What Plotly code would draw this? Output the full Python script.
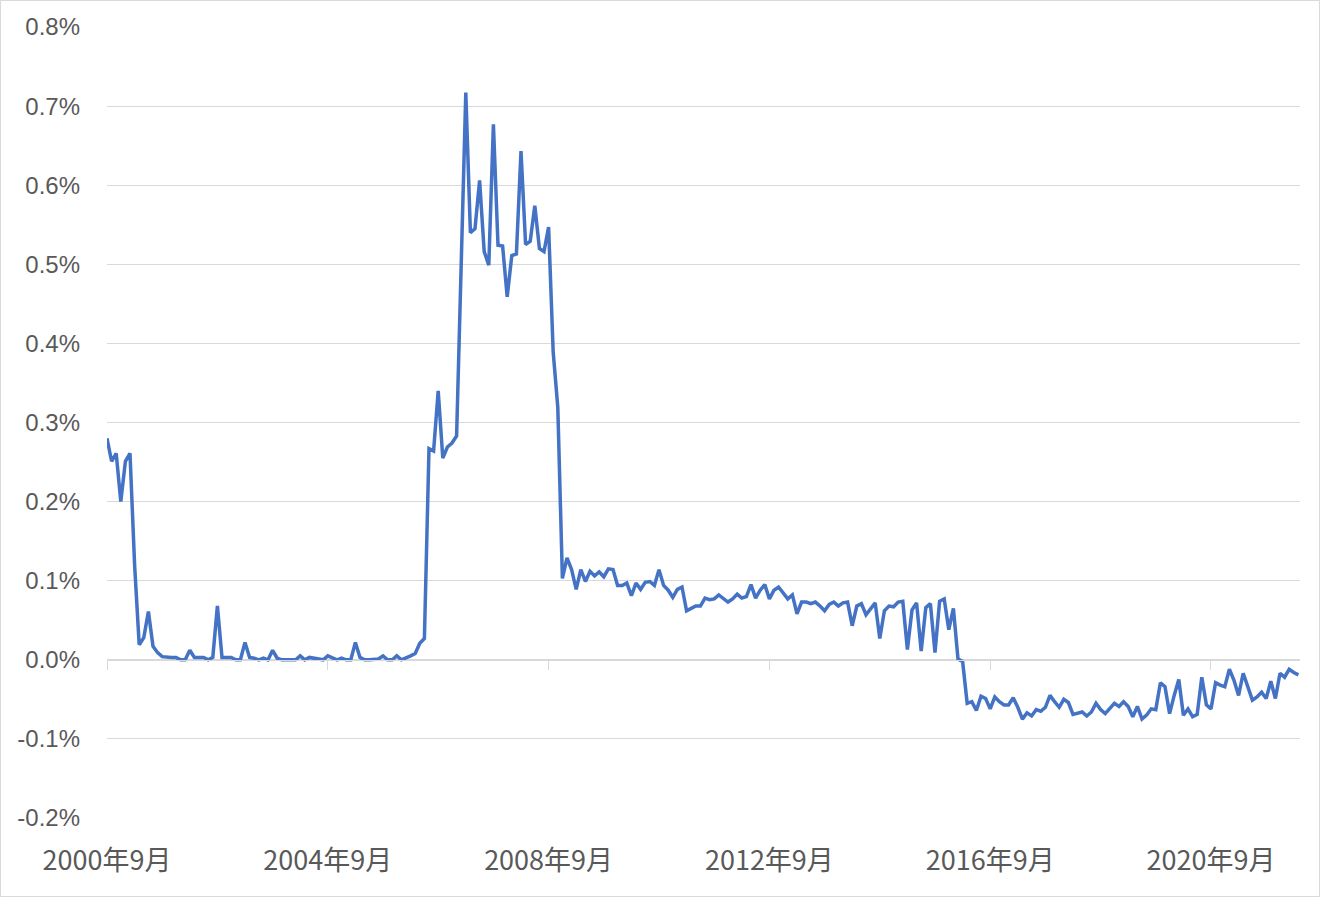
import plotly.graph_objects as go

# ---- data -------------------------------------------------------------
start_year, start_month = 2000, 9
values = [
    0.280, 0.251, 0.261, 0.200, 0.251, 0.261, 0.120, 0.019, 0.028, 0.061,
    0.017, 0.009, 0.004, 0.003, 0.003, 0.003, 0.000, 0.000, 0.012, 0.003,
    0.003, 0.003, 0.000, 0.003, 0.068, 0.003, 0.003, 0.003, 0.000, 0.000,
    0.022, 0.003, 0.002, 0.000, 0.002, 0.000, 0.012, 0.002, 0.000, 0.000,
    0.000, 0.000, 0.005, 0.000, 0.003, 0.002, 0.000, 0.000, 0.005, 0.002,
    0.000, 0.002, 0.000, 0.000, 0.022, 0.003, 0.000, 0.000, 0.000, 0.001,
    0.005, 0.000, 0.000, 0.005, 0.000, 0.002, 0.005, 0.008, 0.021, 0.027,
    0.267, 0.264, 0.340, 0.255, 0.269, 0.274, 0.283, 0.500, 0.717, 0.540,
    0.545, 0.606, 0.516, 0.499, 0.677, 0.524, 0.523, 0.459, 0.511, 0.513,
    0.643, 0.525, 0.529, 0.574, 0.520, 0.516, 0.547, 0.389, 0.319, 0.103,
    0.129, 0.114, 0.089, 0.114, 0.099, 0.112, 0.106, 0.111, 0.105, 0.115,
    0.114, 0.094, 0.094, 0.097, 0.081, 0.097, 0.089, 0.098, 0.099, 0.094,
    0.114, 0.094, 0.088, 0.079, 0.089, 0.092, 0.062, 0.065, 0.068, 0.068,
    0.078, 0.076, 0.077, 0.082, 0.078, 0.073, 0.077, 0.083, 0.078, 0.080,
    0.095, 0.078, 0.088, 0.095, 0.077, 0.088, 0.092, 0.085, 0.077, 0.082,
    0.058, 0.073, 0.073, 0.071, 0.073, 0.068, 0.062, 0.070, 0.073, 0.068,
    0.072, 0.073, 0.043, 0.068, 0.071, 0.057, 0.064, 0.072, 0.027, 0.062,
    0.068, 0.067, 0.073, 0.074, 0.013, 0.063, 0.072, 0.011, 0.066, 0.071,
    0.009, 0.074, 0.077, 0.038, 0.065, 0.001, -0.002, -0.055, -0.053, -0.064,
    -0.046, -0.049, -0.062, -0.047, -0.053, -0.057, -0.057, -0.048, -0.060, -0.075,
    -0.067, -0.071, -0.063, -0.065, -0.060, -0.045, -0.053, -0.060, -0.050, -0.054,
    -0.069, -0.068, -0.066, -0.071, -0.066, -0.055, -0.063, -0.068, -0.062, -0.055,
    -0.059, -0.053, -0.059, -0.072, -0.059, -0.075, -0.070, -0.062, -0.063, -0.029,
    -0.034, -0.068, -0.045, -0.025, -0.070, -0.062, -0.072, -0.069, -0.022, -0.057,
    -0.062, -0.029, -0.032, -0.034, -0.012, -0.026, -0.045, -0.017, -0.034, -0.051,
    -0.047, -0.041, -0.049, -0.027, -0.049, -0.017, -0.022, -0.012, -0.016, -0.019,
]

months = []
for k in range(len(values)):
    m = start_month - 1 + k
    months.append(f"{start_year + m // 12}年{m % 12 + 1}月")

x_tick_labels = ["2000年9月", "2004年9月", "2008年9月", "2012年9月", "2016年9月", "2020年9月"]
y_tick_values = [-0.2, -0.1, 0.0, 0.1, 0.2, 0.3, 0.4, 0.5, 0.6, 0.7, 0.8]
y_tick_labels = ["-0.2%", "-0.1%", "0.0%", "0.1%", "0.2%", "0.3%", "0.4%", "0.5%", "0.6%", "0.7%", "0.8%"]

# ---- style ------------------------------------------------------------
W, H = 1320, 897
ML, MR, MT, MB = 107, 20, 27, 79
PW, PH = W - ML - MR, H - MT - MB
Y_MIN, Y_MAX = -0.2, 0.8
GRID = "#d9d9d9"
TEXT = "#595959"
LINE = "#4472C4"

fig = go.Figure()
fig.add_trace(go.Scatter(
    x=months, y=values, mode="lines",
    line=dict(color=LINE, width=3.5), hoverinfo="skip", showlegend=False,
))
# invisible copy so the zero-line axis (with its tick marks) knows the categories
fig.add_trace(go.Scatter(
    x=months, y=values, mode="lines", xaxis="x2",
    line=dict(color="rgba(0,0,0,0)", width=0), hoverinfo="skip", showlegend=False,
))

x_range = [0, (len(values) - 1) + 0.35]

fig.update_layout(
    width=W, height=H,
    margin=dict(l=ML, r=MR, t=MT, b=MB),
    paper_bgcolor="white", plot_bgcolor="white",
    showlegend=False,
    xaxis=dict(
        type="category", range=x_range,
        tickvals=x_tick_labels, ticktext=x_tick_labels,
        showgrid=False, showline=False, zeroline=False, ticks="",
        tickfont=dict(family="Noto Sans CJK JP", size=27, color=TEXT),
        ticklabelstandoff=24,
    ),
    xaxis2=dict(
        type="category", overlaying="x", matches="x", anchor="free",
        position=(0 - Y_MIN) / (Y_MAX - Y_MIN),
        range=x_range,
        tickvals=x_tick_labels, showticklabels=False,
        showgrid=False, zeroline=False,
        showline=True, linecolor=GRID, linewidth=1,
        ticks="outside", ticklen=9, tickcolor=GRID, tickwidth=1,
    ),
    yaxis=dict(
        range=[Y_MIN, Y_MAX],
        tickvals=y_tick_values, ticktext=y_tick_labels,
        showgrid=True, gridcolor=GRID, gridwidth=1,
        zeroline=False, showline=False, ticks="",
        tickfont=dict(family="Liberation Sans", size=24, color=TEXT),
        ticklabelstandoff=26,
    ),
    shapes=[dict(
        type="rect", xref="paper", yref="paper",
        x0=(-ML + 0.5) / PW, x1=1 + (MR - 0.5) / PW,
        y0=(-MB + 0.5) / PH, y1=1 + (MT - 0.5) / PH,
        line=dict(color=GRID, width=1), fillcolor="rgba(0,0,0,0)", layer="below",
    )],
)

fig.write_html(
    "out.html",
    config={"displayModeBar": False},
    post_script="document.body.style.margin='0';document.body.style.overflow='hidden';",
)
